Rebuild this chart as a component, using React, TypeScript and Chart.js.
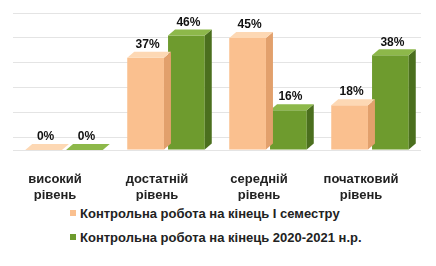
import React, { useEffect, useRef } from "react";
import { Chart, registerables } from "chart.js";
Chart.register(...registerables);

const categories: string[][] = [
  ["високий", "рівень"],
  ["достатній", "рівень"],
  ["середній", "рівень"],
  ["початковий", "рівень"],
];
const seriesNames = [
  "Контрольна робота на кінець І семестру",
  "Контрольна робота на кінець 2020-2021 н.р.",
];
const semesterValues = [0, 37, 45, 18];
const yearValues = [0, 46, 16, 38];
const gridTicks = [0, 5, 15, 25, 35, 45, 55];

const FRONT = ["#FAC08F", "#6E9B2E"];
const SIDE = ["#E2A06C", "#4B6F1E"];
const TOP = ["#FDD8B4", "#8DB84A"];
const DEPTH_X = 7;
const DEPTH_Y = 6;

const boxes3d = {
  id: "boxes3d",
  afterDatasetDraw(chart: any, args: any) {
    const ctx = chart.ctx;
    const i = args.index;
    const meta = chart.getDatasetMeta(i);
    ctx.save();
    meta.data.forEach((bar: any) => {
      const { x, y, base, width } = bar.getProps(["x", "y", "base", "width"], true);
      const l = x - width / 2;
      const r = x + width / 2;
      ctx.fillStyle = SIDE[i];
      ctx.beginPath();
      ctx.moveTo(r, y);
      ctx.lineTo(r + DEPTH_X, y - DEPTH_Y);
      ctx.lineTo(r + DEPTH_X, base - DEPTH_Y);
      ctx.lineTo(r, base);
      ctx.closePath();
      ctx.fill();
      ctx.fillStyle = TOP[i];
      ctx.beginPath();
      ctx.moveTo(l, y);
      ctx.lineTo(l + DEPTH_X, y - DEPTH_Y);
      ctx.lineTo(r + DEPTH_X, y - DEPTH_Y);
      ctx.lineTo(r, y);
      ctx.closePath();
      ctx.fill();
    });
    ctx.restore();
  },
  afterDatasetsDraw(chart: any) {
    const ctx = chart.ctx;
    ctx.save();
    ctx.font = "bold 12px 'Liberation Sans', Arial, sans-serif";
    ctx.fillStyle = "#111";
    ctx.textAlign = "center";
    ctx.textBaseline = "bottom";
    chart.data.datasets.forEach((ds: any, i: number) => {
      const meta = chart.getDatasetMeta(i);
      meta.data.forEach((bar: any, j: number) => {
        const { x, y } = bar.getProps(["x", "y"], true);
        ctx.fillText(ds.data[j] + "%", x + 2, y - DEPTH_Y - 1);
      });
    });
    ctx.restore();
  },
};

export default function App() {
  const ref = useRef<HTMLCanvasElement>(null);
  useEffect(() => {
    if (!ref.current) return;
    const chart = new Chart(ref.current, {
      type: "bar",
      data: {
        labels: categories,
        datasets: [
          { label: seriesNames[0], data: semesterValues, backgroundColor: FRONT[0] },
          { label: seriesNames[1], data: yearValues, backgroundColor: FRONT[1] },
        ],
      },
      options: {
        animation: false,
        responsive: true,
        maintainAspectRatio: false,
        layout: { padding: { left: 5, right: 7, top: 5, bottom: 0 } },
        plugins: { legend: { display: false }, tooltip: { enabled: false } },
        scales: {
          x: {
            grid: { display: false },
            border: { display: false },
            ticks: {
              padding: 13,
              labelOffset: -9,
              color: "#222",
              font: { family: "'Liberation Sans', Arial, sans-serif", size: 13, weight: "bold", lineHeight: "16px" } as any,
            },
            afterFit: (scale: any) => {
              scale.height = 51;
            },
            categoryPercentage: 0.6,
            barPercentage: 1,
          } as any,
          y: {
            min: 0,
            max: 55,
            border: { display: false },
            grid: { color: "#E4E4E4", drawTicks: false },
            ticks: { display: false },
            afterBuildTicks: (scale: any) => {
              scale.ticks = gridTicks.map((v) => ({ value: v }));
            },
          },
        },
      },
      plugins: [boxes3d],
    });
    return () => chart.destroy();
  }, []);

  return (
    <div style={{ width: 420, fontFamily: "'Liberation Sans', Arial, sans-serif" }}>
      <div style={{ position: "relative", width: 420, height: 193 }}>
        <canvas ref={ref} />
      </div>
      <div style={{ paddingLeft: 62 }}>
        {seriesNames.map((name, i) => (
          <div
            key={name}
            style={{ height: 24, display: "flex", alignItems: "center", fontSize: 13, fontWeight: "bold", color: "#222" }}
          >
            <span style={{ width: 6, height: 6, background: FRONT[i], marginRight: 4, display: "inline-block" }} />
            {name}
          </div>
        ))}
      </div>
    </div>
  );
}
